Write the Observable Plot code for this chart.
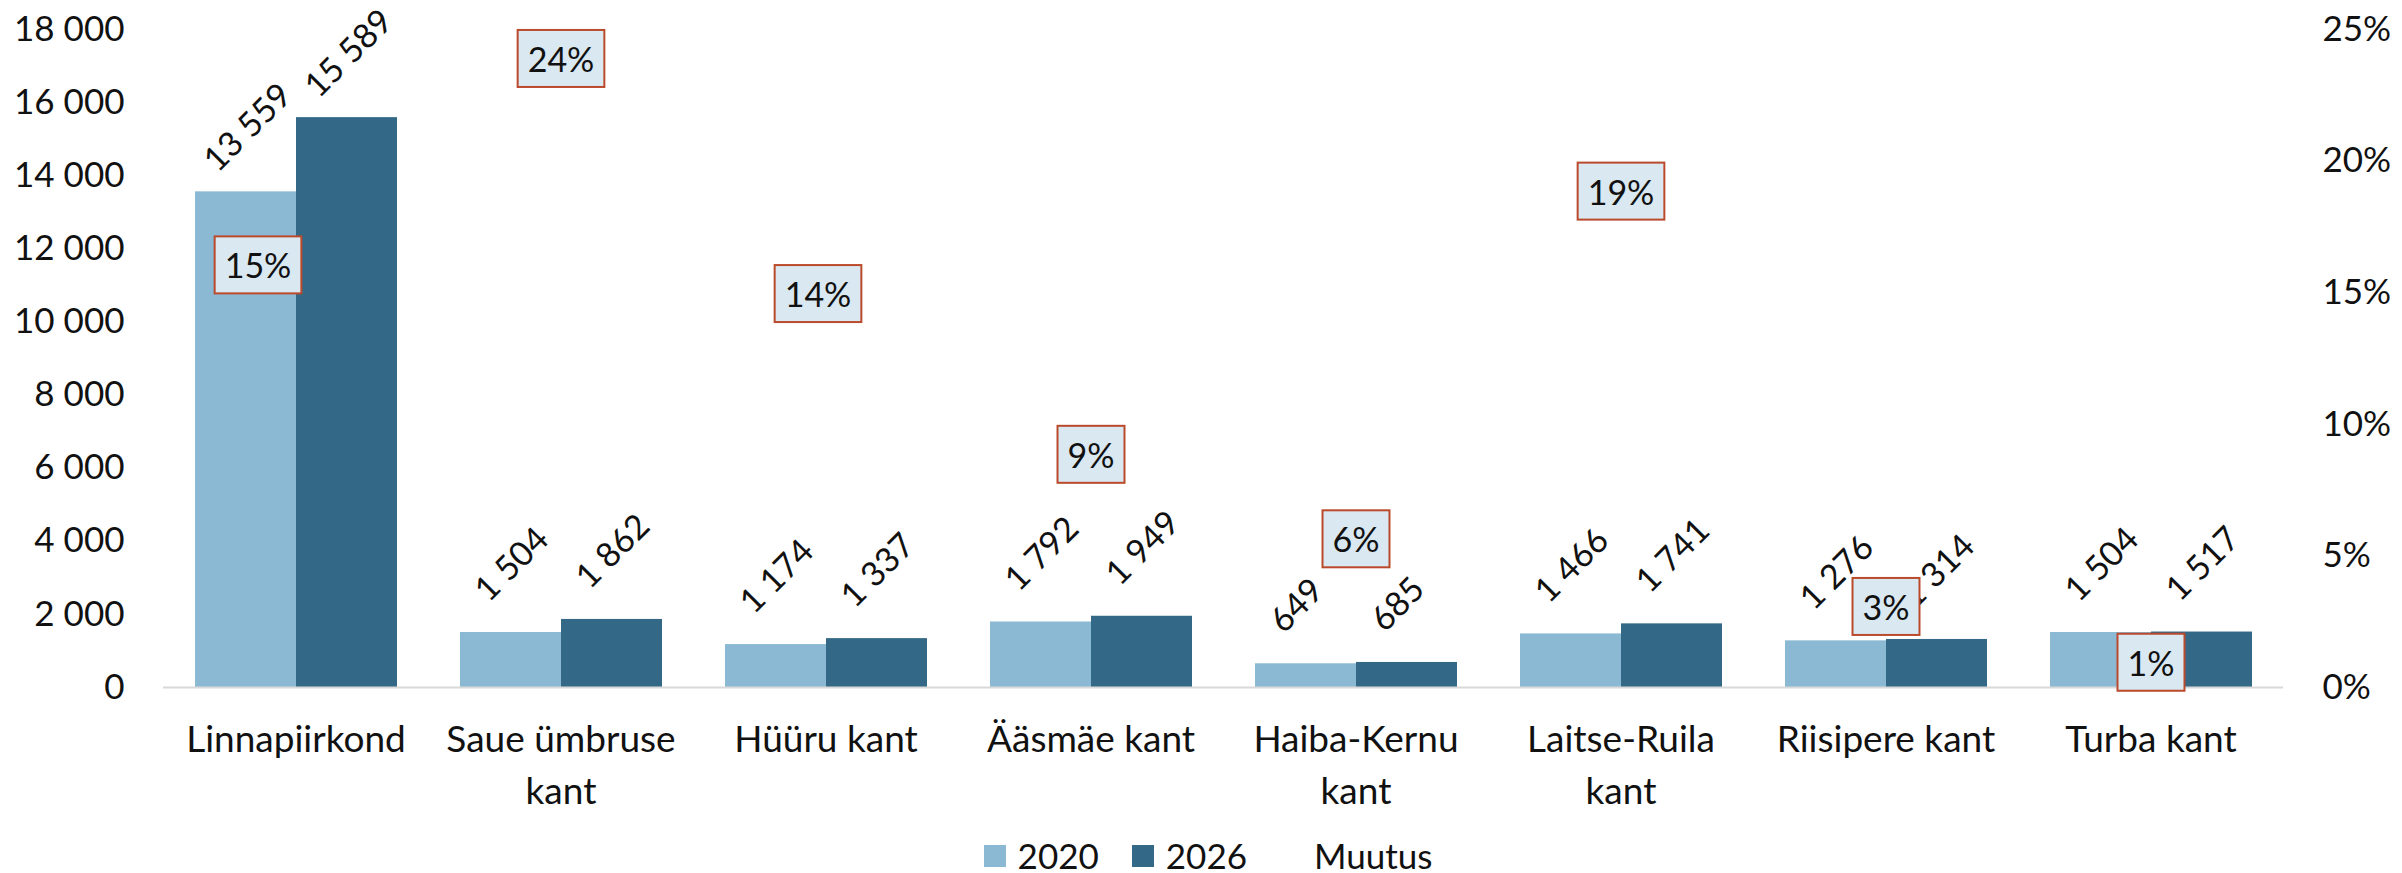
<!DOCTYPE html>
<html>
<head>
<meta charset="utf-8">
<script src="https://cdn.jsdelivr.net/npm/d3@7"></script>
<script src="https://cdn.jsdelivr.net/npm/@observablehq/plot@0.6"></script>
<style>
  html, body { margin: 0; padding: 0; background: #fff; width: 2402px; height: 873px; overflow: hidden; font-family: Lato, "Noto Sans", sans-serif; }
  #chart { position: absolute; left: 0; top: 0; }
  #legend { position: absolute; left: 0; top: 838px; width: 2402px; height: 35px; display: flex; justify-content: center; align-items: center;
            font-size: 35px; line-height: 35px; color: #111; padding-left: 14px; box-sizing: border-box; }
  .item { display: flex; align-items: center; margin-right: 33px; }
  .item:last-child { margin-right: 0; }
  .sw { width: 22px; height: 22px; margin-right: 12px; }
</style>
</head>
<body>
<div id="chart"></div>
<div id="legend"></div>
<script>
// ---- data ----
const categories = ["Linnapiirkond", "Saue ümbruse kant", "Hüüru kant", "Ääsmäe kant", "Haiba-Kernu kant", "Laitse-Ruila kant", "Riisipere kant", "Turba kant"];
const xLabels = ["Linnapiirkond", "Saue ümbruse\nkant", "Hüüru kant", "Ääsmäe kant", "Haiba-Kernu\nkant", "Laitse-Ruila\nkant", "Riisipere kant", "Turba kant"];
const years = ["2020", "2026"];
const values2020 = [13559, 1504, 1174, 1792, 649, 1466, 1276, 1504];
const values2026 = [15589, 1862, 1337, 1949, 685, 1741, 1314, 1517];
const muutus = [0.1497, 0.2380, 0.1388, 0.0876, 0.0555, 0.1876, 0.0298, 0.0086];
const leftTicks = [0, 2000, 4000, 6000, 8000, 10000, 12000, 14000, 16000, 18000];
const rightTicks = [0, 0.05, 0.10, 0.15, 0.20, 0.25];
const seriesNames = ["2020", "2026", "Muutus"];

// ---- styling ----
const colors = {"2020": "#8bb9d3", "2026": "#336886"};
const boxFill = "#d9e8f1", boxStroke = "#bb4a2c";
const ink = "#111";

// ---- derived tables ----
const rows = categories.flatMap((c, i) => [
  {cat: c, year: years[0], value: values2020[i]},
  {cat: c, year: years[1], value: values2026[i]}
]);
const changes = categories.map((c, i) => ({cat: c, change: muutus[i]}));
const ratio = d3.max(leftTicks) / d3.max(rightTicks); // secondary axis mapping
const nf = d3.formatLocale({decimal: ",", thousands: " ", grouping: [3], currency: ["", ""]}).format(",d");
const pf = v => Math.round(v * 100) + "%";

// label nudges (as in the original, two labels were moved by hand)
const nudged = {"Linnapiirkond": {dx: -38, dy: -26}, "Hüüru kant": {dx: -8, dy: -26}};
const plain = changes.filter(d => !nudged[d.cat]);

const changeMarks = [Plot.text(plain, {fx: "cat", y: d => d.change * ratio, text: d => pf(d.change), fontSize: 34, fill: ink, ariaDescription: "muutus"})];
for (const [cat, o] of Object.entries(nudged)) {
  changeMarks.push(Plot.text(changes.filter(d => d.cat === cat), {fx: "cat", y: d => d.change * ratio, text: d => pf(d.change), fontSize: 34, fill: ink, dx: o.dx, dy: o.dy, ariaDescription: "muutus"}));
}

const chart = Plot.plot({
  width: 2402,
  height: 830,
  marginLeft: 159,
  marginRight: 116,
  marginTop: 29,
  marginBottom: 143,
  style: {fontFamily: "Lato, 'Noto Sans', sans-serif", fontSize: "35px", color: ink, background: "#fff"},
  fx: {domain: categories, padding: 0, label: null},
  x: {domain: years, paddingInner: 0, paddingOuter: 0.3, axis: null},
  y: {domain: [0, d3.max(leftTicks)], axis: null},
  color: {domain: years, range: [colors["2020"], colors["2026"]]},
  marks: [
    Plot.barY(rows, {fx: "cat", x: "year", y: "value", fill: "year"}),
    Plot.ruleY([0], {stroke: "#d9d9d9", strokeWidth: 2}),
    Plot.axisY({anchor: "left", ticks: leftTicks, tickFormat: nf, tickSize: 0, tickPadding: 39, fontSize: 35, label: null}),
    Plot.axisY({anchor: "right", ticks: rightTicks.map(v => v * ratio), tickFormat: v => pf(v / ratio), tickSize: 0, tickPadding: 39, fontSize: 35, label: null}),
    Plot.axisFx({anchor: "bottom", tickSize: 0, tickPadding: 28, fontSize: 37, lineHeight: 1.4, tickFormat: d => xLabels[categories.indexOf(d)], label: null}),
    Plot.text(rows.filter(d => d.value < 10000), {fx: "cat", x: "year", y: "value", text: d => nf(d.value), rotate: -45, textAnchor: "start", dx: -30, dy: -37, fontSize: 34, fill: ink}),
    Plot.text(rows.filter(d => d.value >= 10000), {fx: "cat", x: "year", y: "value", text: d => nf(d.value), rotate: -45, textAnchor: "start", dx: -36, dy: -26, fontSize: 34, fill: ink}),
    ...changeMarks
  ]
});
document.getElementById("chart").appendChild(chart);

function addBoxes() {
  const svgNS = "http://www.w3.org/2000/svg";
  chart.querySelectorAll("rect.mbox").forEach(r => r.remove());
  chart.querySelectorAll('[aria-description="muutus"] text').forEach(t => {
    const b = t.getBBox();
    const w = b.width + 20, h = 57;
    const r = document.createElementNS(svgNS, "rect");
    r.setAttribute("class", "mbox");
    r.setAttribute("x", b.x + b.width / 2 - w / 2);
    r.setAttribute("y", b.y + b.height / 2 - h / 2);
    r.setAttribute("width", w);
    r.setAttribute("height", h);
    r.setAttribute("fill", boxFill);
    r.setAttribute("stroke", boxStroke);
    r.setAttribute("stroke-width", 2);
    const tr = t.getAttribute("transform");
    if (tr) r.setAttribute("transform", tr);
    t.parentNode.insertBefore(r, t);
  });
}
addBoxes();
if (document.fonts && document.fonts.ready) document.fonts.ready.then(addBoxes);

// ---- legend ----
const legend = document.getElementById("legend");
seriesNames.forEach(name => {
  const item = document.createElement("div");
  item.className = "item";
  const sw = document.createElement("div");
  sw.className = "sw";
  sw.style.background = colors[name] || "transparent";
  const label = document.createElement("span");
  label.textContent = name;
  item.appendChild(sw);
  item.appendChild(label);
  legend.appendChild(item);
});
</script>
</body>
</html>
